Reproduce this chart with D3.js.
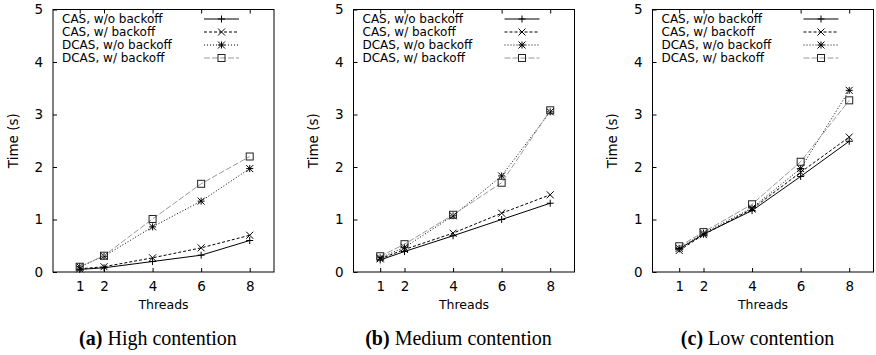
<!DOCTYPE html>
<html>
<head>
<meta charset="utf-8">
<script src="https://cdn.jsdelivr.net/npm/d3@7"></script>
<style>
  body { margin: 0; background: #fff; }
  svg { display: block; }
</style>
</head>
<body>
<svg width="876" height="355"></svg>
<script>
// data
const threads = [1, 2, 4, 6, 8];
const seriesNames = ["CAS, w/o backoff", "CAS, w/ backoff", "DCAS, w/o backoff", "DCAS, w/ backoff"];
const yTicks = [0, 1, 2, 3, 4, 5];

// one array per series per panel
const highCasNo = [0.05, 0.08, 0.20, 0.32, 0.60];
const highCasYes = [0.06, 0.10, 0.27, 0.46, 0.70];
const highDcasNo = [0.10, 0.30, 0.86, 1.35, 1.97];
const highDcasYes = [0.10, 0.31, 1.01, 1.68, 2.20];

const medCasNo = [0.23, 0.39, 0.69, 1.00, 1.31];
const medCasYes = [0.25, 0.43, 0.74, 1.12, 1.47];
const medDcasNo = [0.27, 0.47, 1.07, 1.83, 3.05];
const medDcasYes = [0.30, 0.53, 1.09, 1.70, 3.08];

const lowCasNo = [0.44, 0.72, 1.17, 1.82, 2.49];
const lowCasYes = [0.41, 0.71, 1.20, 1.90, 2.57];
const lowDcasNo = [0.45, 0.74, 1.22, 1.97, 3.46];
const lowDcasYes = [0.49, 0.76, 1.29, 2.10, 3.27];

const panelLetters = ["a", "b", "c"];
const panelTitles = ["High contention", "Medium contention", "Low contention"];
const panelData = [
  [highCasNo, highCasYes, highDcasNo, highDcasYes],
  [medCasNo, medCasYes, medDcasNo, medDcasYes],
  [lowCasNo, lowCasYes, lowDcasNo, lowDcasYes]
];

const svg = d3.select("svg");
const sans = "DejaVu Sans, sans-serif";

// line look per series
const styles = [
  {stroke: "#000", dash: null, marker: "plus"},
  {stroke: "#000", dash: "3,2", marker: "cross"},
  {stroke: "#000", dash: "1,2", marker: "star"},
  {stroke: "#999", dash: "6,2", marker: "square"}
];

function drawMarker(g, type, x, y) {
  const s = 3.5;
  if (type == "plus") {
    g.append("path").attr("d", `M${x-s},${y}H${x+s}M${x},${y-s}V${y+s}`)
      .attr("stroke", "#000").attr("fill", "none");
  } else if (type == "cross") {
    g.append("path").attr("d", `M${x-s},${y-s}L${x+s},${y+s}M${x-s},${y+s}L${x+s},${y-s}`)
      .attr("stroke", "#000").attr("fill", "none");
  } else if (type == "star") {
    g.append("path").attr("d", `M${x-s},${y}H${x+s}M${x},${y-s}V${y+s}M${x-s},${y-s}L${x+s},${y+s}M${x-s},${y+s}L${x+s},${y-s}`)
      .attr("stroke", "#000").attr("fill", "none");
  } else {
    g.append("rect").attr("x", x-s).attr("y", y-s).attr("width", 2*s).attr("height", 2*s)
      .attr("stroke", "#222").attr("fill", "none");
  }
}

const offsets = [0, 300.5, 599.5];
const plotW = 221, plotH = 262.5, plotLeft = 53, plotTop = 9.5;

panelData.forEach((series, p) => {
  const g = svg.append("g").attr("transform", `translate(${offsets[p] + plotLeft},${plotTop})`);

  const x = d3.scaleLinear().domain([-0.1, 9]).range([0, plotW]);
  const y = d3.scaleLinear().domain([0, 5]).range([plotH, 0]);

  // box
  g.append("rect").attr("width", plotW).attr("height", plotH)
    .attr("fill", "none").attr("stroke", "#000");

  // ticks, gnuplot style (inward)
  const yAxis = g.append("g").call(d3.axisLeft(y).tickValues(yTicks).tickFormat(d3.format("d"))
    .tickSizeInner(-4).tickSizeOuter(0).tickPadding(10));
  const xAxis = g.append("g").attr("transform", `translate(0,${plotH})`)
    .call(d3.axisBottom(x).tickValues(threads).tickFormat(d3.format("d"))
      .tickSizeInner(-4).tickSizeOuter(0).tickPadding(9));
  const xTop = g.append("g").call(d3.axisTop(x).tickValues(threads).tickSizeInner(-4).tickSizeOuter(0).tickFormat(""));
  [yAxis, xAxis, xTop].forEach(a => {
    a.select(".domain").remove();
    a.selectAll("text").attr("font-family", sans).attr("font-size", 13.5).attr("fill", "#000");
  });

  // lines and markers
  series.forEach((vals, i) => {
    const st = styles[i];
    const line = d3.line().x((d, j) => x(threads[j])).y(d => y(d));
    g.append("path").datum(vals).attr("d", line)
      .attr("fill", "none").attr("stroke", st.stroke).attr("stroke-width", 1)
      .attr("stroke-dasharray", st.dash);
    vals.forEach((v, j) => drawMarker(g, st.marker, x(threads[j]), y(v)));
  });

  // legend
  seriesNames.forEach((name, i) => {
    const ly = 9.5 + i * 13;
    g.append("text").attr("x", 9).attr("y", ly).attr("dy", "0.35em")
      .attr("font-family", sans).attr("font-size", 12).text(name);
    g.append("line").attr("x1", 151).attr("x2", 186).attr("y1", ly).attr("y2", ly)
      .attr("stroke", styles[i].stroke).attr("stroke-dasharray", styles[i].dash);
    drawMarker(g, styles[i].marker, 168.5, ly);
  });

  // axis titles
  g.append("text").attr("transform", `translate(${-40},${plotH / 2}) rotate(-90)`)
    .attr("text-anchor", "middle").attr("dy", "0.35em")
    .attr("font-family", sans).attr("font-size", 13.5).text("Time (s)");
  g.append("text").attr("x", plotW / 2).attr("y", plotH + 37)
    .attr("text-anchor", "middle")
    .attr("font-family", sans).attr("font-size", 12.5).text("Threads");

  // caption
  const cap = svg.append("text").attr("x", offsets[p] + 158).attr("y", 345)
    .attr("text-anchor", "middle")
    .attr("font-family", "Liberation Serif, Times New Roman, serif").attr("font-size", 20);
  cap.append("tspan").attr("font-weight", "bold").text("(" + panelLetters[p] + ")");
  cap.append("tspan").text(" " + panelTitles[p]);
});
</script>
</body>
</html>
